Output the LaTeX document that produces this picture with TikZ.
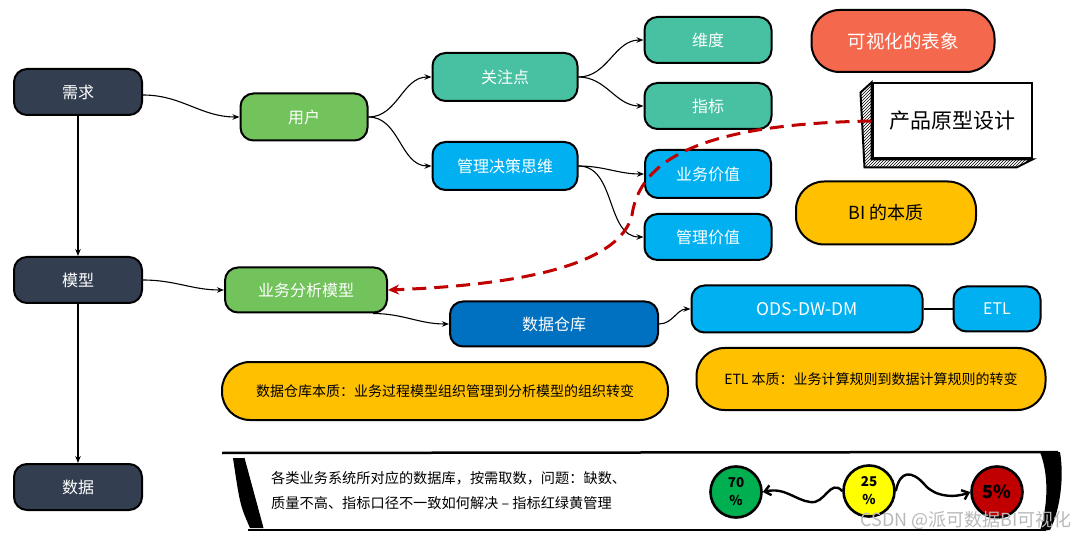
\documentclass[tikz,border=0pt]{standalone}
\usepackage{fontspec}
\setmainfont{Noto Sans CJK SC}
\usetikzlibrary{arrows.meta,patterns}
\definecolor{navy}{HTML}{333F50}
\definecolor{lgreen}{HTML}{72C35C}
\definecolor{teal1}{HTML}{47C1A2}
\definecolor{cyan1}{HTML}{00B0F0}
\definecolor{dblue}{HTML}{0070C0}
\definecolor{orange1}{HTML}{F4694E}
\definecolor{yellow1}{HTML}{FFC000}
\definecolor{red1}{HTML}{C00000}
\definecolor{cgreen}{HTML}{00B050}
\definecolor{cyel}{HTML}{FFFF00}
\begin{document}
\begin{tikzpicture}[x=1pt,y=-1pt,
  box/.style={draw=black, line width=2pt, rounded corners=13pt, minimum height=46pt, inner sep=0pt, font=\fontsize{16}{18}\selectfont, text=white},
  blob/.style={draw=black, line width=2pt, rounded corners=28pt, inner sep=0pt},
  conn/.style={-{Stealth[length=7pt,width=5.5pt]}, line width=1.1pt, black},
  circ/.style={circle, draw=black, line width=2.6pt, minimum size=51pt, inner sep=0pt, font=\bfseries\fontsize{13.5}{18}\selectfont, align=center},
  wave/.style={line width=2.4pt, -{Straight Barb[length=6pt,width=10pt]}}
]
\useasboundingbox[fill=white] (0,0) rectangle (1080,540);

% left column
\node[box,fill=navy,minimum width=128pt] (xq) at (78,92) {需求};
\node[box,fill=navy,minimum width=128pt] (mx) at (78,280) {模型};
\node[box,fill=navy,minimum width=128pt] (sj) at (78,487) {数据};

% upper tree
\node[box,fill=lgreen,minimum width=127pt,minimum height=47pt] (yh) at (304,117) {用户};
\node[box,fill=teal1,minimum width=145pt,minimum height=48pt] (gzd) at (505,77) {关注点};
\node[box,fill=cyan1,minimum width=145pt,minimum height=48pt] (gljc) at (505,166) {管理决策思维};
\node[box,fill=teal1,minimum width=127pt] (wd) at (708,40) {维度};
\node[box,fill=teal1,minimum width=127pt] (zb) at (708,106) {指标};
\node[box,fill=cyan1,minimum width=126pt,minimum height=48pt] (ywjz) at (708,174) {业务价值};
\node[box,fill=cyan1,minimum width=127pt] (gljz) at (708,237) {管理价值};

% middle row
\node[box,fill=lgreen,minimum width=162pt,minimum height=45pt] (fxmx) at (306,290) {业务分析模型};
\node[box,fill=dblue,minimum width=208pt,minimum height=45pt] (ck) at (554,324) {数据仓库};
\node[box,fill=cyan1,minimum width=231pt,minimum height=47pt,font=\fontsize{17.5}{19}\selectfont] (ods) at (807,309) {ODS-DW-DM};
\node[box,fill=cyan1,minimum width=87pt,minimum height=45pt] (etl) at (997,309) {ETL};

% blobs
\node[blob,fill=orange1,minimum width=183pt,minimum height=62pt,text=white,font=\fontsize{18.5}{20}\selectfont] (ksh) at (903,41) {可视化的表象};
\node[blob,fill=yellow1,minimum width=180pt,minimum height=63pt,font=\fontsize{18}{20}\selectfont] (bi) at (886,213) {BI 的本质};
\node[blob,fill=yellow1,minimum width=446pt,minimum height=58pt,font=\fontsize{14}{16}\selectfont] (ckbz) at (445,391) {数据仓库本质：业务过程模型组织管理到分析模型的组织转变};
\node[blob,fill=yellow1,minimum width=349pt,minimum height=62pt,font=\fontsize{14}{16}\selectfont] (etlbz) at (871,379) {ETL 本质：业务计算规则到数据计算规则的转变};

% 3D box
\node[draw=black,line width=2pt,fill=white,minimum width=159pt,minimum height=75pt,inner sep=0pt,font=\fontsize{21}{23}\selectfont] (proto) at (952,121) {产品原型设计};
\draw[line width=2pt,pattern=north east lines] (proto.north west) -- ++(-11,10) -- ++(4,75) -- ++(152,0) -- (proto.south east) -- (proto.south west) -- cycle;

% connectors
\draw[conn] ([yshift=-3pt]xq.east) to[out=0,in=180] (yh.west);
\draw[conn] (xq.south) -- (mx.north);
\draw[conn] (mx.south) -- (sj.north);
\draw[conn] (mx.east) to[out=0,in=180] (fxmx.west);
\draw[conn] (yh.east) to[out=0,in=180] (gzd.west);
\draw[conn] (yh.east) to[out=0,in=180] (gljc.west);
\draw[conn] (gzd.east) to[out=0,in=180] (wd.west);
\draw[conn] (gzd.east) to[out=0,in=180] (zb.west);
\draw[conn] (gljc.east) to[out=0,in=180] (ywjz.west);
\draw[conn] (gljc.east) to[out=0,in=180] (gljz.west);
\draw[conn] ([xshift=-15pt]fxmx.south east) to[out=0,in=180] (ck.west);
\draw[conn] (ck.east) to[out=0,in=180] (ods.west);
\draw[line width=1.1pt] (ods.east) to[out=0,in=180] (etl.west);

% red dashed
\draw[red1, line width=3pt, dash pattern=on 14pt off 8pt, -{Stealth[length=11pt,width=10pt]}]
  (proto.west) .. controls (700,124) and (640,160) .. (632,215)
  .. controls (620,265) and (520,285) .. (fxmx.east);

% scroll
\draw[line width=2.5pt] (222,453) -- (1058,452);
\draw[line width=2.5pt] (248,530) -- (1046,530);
\fill (233,458) -- (244,458) -- (263,528) -- (250,528) .. controls (240,505) .. cycle;
\draw[line width=1pt] (244,458) -- (263,528);
\fill (1040,452) -- (1060,452) .. controls (1064,475) and (1061,508) .. (1050,530) -- (1040,531) .. controls (1048,505) and (1049,475) .. cycle;

\node[anchor=west, align=left, font=\fontsize{14.2}{25}\selectfont, inner sep=0pt] (st) at (271,491) {各类业务系统所对应的数据库，按需取数，问题：缺数、\\质量不高、指标口径不一致如何解决 – 指标红绿黄管理};

% circles
\node[circ,fill=cgreen] (c70) at (736,492) {70\\\%};
\node[circ,fill=cyel] (c25) at (869,491) {25\\\%};
\node[circ,fill=red1,font=\bfseries\fontsize{18}{18}\selectfont] (c5) at (997,492) {5\%};
\draw[wave] (c25.west) .. controls (830,478) and (825,505) .. (810,502) .. controls (795,500) and (785,487) .. (c70.east);
\draw[wave] (c25.east) .. controls (900,470) and (912,470) .. (925,485) .. controls (935,497) and (955,498) .. (c5.west);

% watermark
\node[text=gray!55, font=\fontsize{18}{18}\selectfont, anchor=east, inner sep=0pt] (wm) at (1072,520) {CSDN @派可数据BI可视化};
\end{tikzpicture}
\end{document}
